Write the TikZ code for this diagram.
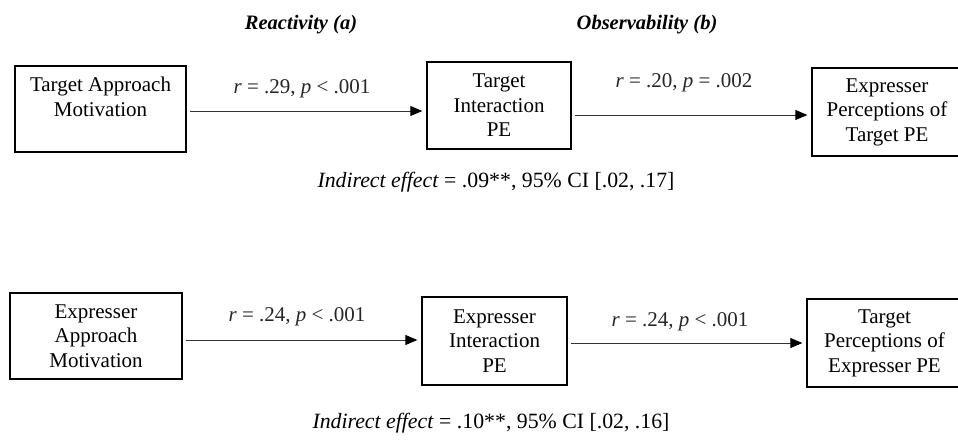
\documentclass[tikz,border=0pt]{standalone}
\usepackage{fontspec}
\setmainfont{Liberation Serif}
\usetikzlibrary{arrows.meta}
\begin{document}
\begin{tikzpicture}[x=1pt,y=1pt,
  every node/.style={font=\fontsize{21}{24.5}\selectfont, text=black},
  boxnode/.style={draw, line width=1.3pt, align=center, inner sep=0pt},
  lbl/.style={text=black!85},
  ietext/.style={font=\fontsize{21.8}{25}\selectfont},
  hdr/.style={font=\fontsize{20.5}{24}\selectfont\bfseries\itshape},
  arr/.style={line width=0.9pt, draw=black!80, -{Triangle[length=12pt,width=10pt,fill=black,color=black]}, shorten <=3pt, shorten >=4pt}]
\useasboundingbox (0,0) rectangle (958,-439);

% headers
\node[hdr] (h1) at (301,-25) {Reactivity (a)};
\node[hdr] (h2) at (647,-25) {Observability (b)};

% top row
\node[boxnode, minimum width=171, minimum height=86] (b1) at (100.5,-109) {Target Approach\\Motivation\\~};
\node[boxnode, minimum width=144, minimum height=87] (b2) at (499,-105.5) {Target\\Interaction\\PE};
\node[boxnode, minimum width=150, minimum height=88] (b3) at (887,-112) {Expresser\\Perceptions of\\Target PE};

\draw[arr] (b1.east |- 0,-111) -- (b2.west |- 0,-111);
\draw[arr] (b2.east |- 0,-115) -- (b3.west |- 0,-115);

\node[lbl] (l1) at (302,-89) {\textit{r} = .29, \textit{p} < .001};
\node[lbl] (l2) at (684,-83) {\textit{r} = .20, \textit{p} = .002};

\node[ietext] (ie1) at (496,-182) {\textit{Indirect effect} = .09**, 95\% CI [.02, .17]};

% bottom row
\node[boxnode, minimum width=172, minimum height=86] (b4) at (96,-336) {Expresser\\Approach\\Motivation};
\node[boxnode, minimum width=145, minimum height=88] (b5) at (494.5,-341) {Expresser\\Interaction\\PE};
\node[boxnode, minimum width=155, minimum height=88] (b6) at (884.5,-343) {Target\\Perceptions of\\Expresser PE};

\draw[arr] (b4.east |- 0,-340) -- (b5.west |- 0,-340);
\draw[arr] (b5.east |- 0,-343) -- (b6.west |- 0,-343);

\node[lbl] (l3) at (297,-317) {\textit{r} = .24, \textit{p} < .001};
\node[lbl] (l4) at (680,-322) {\textit{r} = .24, \textit{p} < .001};

\node[ietext] (ie2) at (491,-423) {\textit{Indirect effect} = .10**, 95\% CI [.02, .16]};
\end{tikzpicture}
\end{document}
